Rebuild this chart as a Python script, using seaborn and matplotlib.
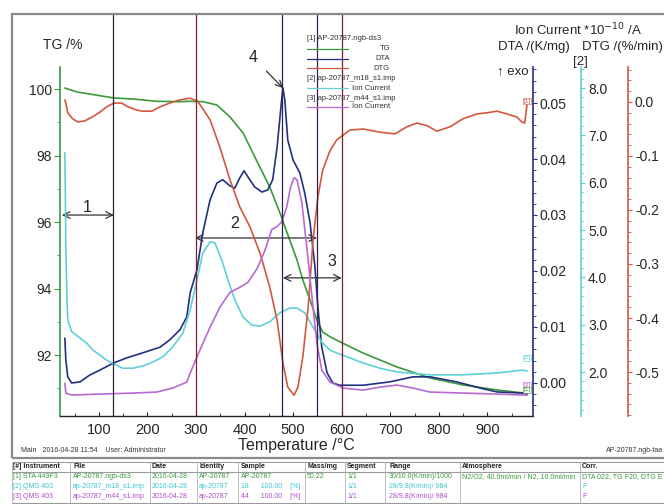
import matplotlib
matplotlib.use("Agg")
import matplotlib.pyplot as plt
from matplotlib.lines import Line2D
from matplotlib.patches import Rectangle
from matplotlib.ticker import FixedLocator, FormatStrFormatter
import numpy as np
import seaborn as sns

# ---------------- data ----------------
# [1] TG  (mass, %)
tg_temp = [30, 55, 81, 131, 170, 219, 267, 288, 314, 343, 370, 397, 421, 452, 473,
           493, 508, 520, 535, 549, 561, 576, 596, 644, 714, 782, 850, 920, 973, 982]
tg_mass = [100.03, 99.91, 99.85, 99.73, 99.70, 99.63, 99.62, 99.63, 99.62, 99.52,
           99.16, 98.68, 97.96, 97.05, 96.27, 95.46, 94.86, 94.26, 93.65, 93.05,
           92.69, 92.55, 92.40, 92.06, 91.64, 91.31, 91.10, 90.95, 90.86, 90.82]

# [1] DTG (%/min)
dtg_temp = [30, 32, 36, 46, 57, 71, 86, 102, 116, 131, 147, 160, 178, 191, 209, 226,
            246, 267, 288, 304, 329, 349, 370, 390, 411, 432, 452, 467, 479, 489,
            502, 510, 520, 531, 541, 551, 561, 576, 590, 617, 644, 679, 710, 734,
            755, 776, 796, 823, 850, 879, 899, 920, 940, 961, 971, 977, 982]
dtg_rate = [0.004, -0.002, -0.020, -0.031, -0.037, -0.035, -0.028, -0.019, -0.009,
            -0.002, -0.002, -0.009, -0.015, -0.017, -0.017, -0.009, -0.002, 0.004,
            0.007, 0.001, -0.033, -0.083, -0.144, -0.194, -0.231, -0.280, -0.343,
            -0.404, -0.483, -0.528, -0.543, -0.528, -0.472, -0.380, -0.256, -0.176,
            -0.126, -0.090, -0.070, -0.052, -0.050, -0.056, -0.059, -0.046, -0.039,
            -0.044, -0.054, -0.046, -0.031, -0.022, -0.020, -0.017, -0.022, -0.028,
            -0.037, -0.039, -0.002]

# [1] DTA (K/mg)
dta_temp = [30, 32, 36, 44, 61, 81, 102, 131, 158, 191, 226, 246, 267, 281, 288, 302,
            314, 329, 343, 355, 370, 380, 390, 399, 407, 421, 436, 448, 458, 467, 475,
            479, 483, 489, 500, 514, 524, 535, 545, 551, 559, 570, 582, 596, 644, 699,
            747, 782, 837, 885, 920, 973, 982]
dta_signal = [0.0080, 0.0041, 0.0011, 0.0000, 0.0002, 0.0014, 0.0023, 0.0036, 0.0045,
              0.0054, 0.0064, 0.0077, 0.0095, 0.0118, 0.0161, 0.0202, 0.0268, 0.0327,
              0.0357, 0.0363, 0.0352, 0.0348, 0.0366, 0.0379, 0.0368, 0.0350, 0.0341,
              0.0345, 0.0363, 0.0421, 0.0493, 0.0527, 0.0505, 0.0434, 0.0398, 0.0375,
              0.0339, 0.0286, 0.0207, 0.0136, 0.0064, 0.0018, 0.0000, -0.0004,
              -0.0004, 0.0002, 0.0011, 0.0011, 0.0002, -0.0009, -0.0016, -0.0018,
              -0.0020]

# [2] ion current m/z 18 (*1e-10 A)
m18_temp = [30, 31, 32, 34, 36, 44, 61, 75, 88, 102, 116, 131, 149, 170, 191, 211,
            232, 252, 273, 288, 302, 314, 329, 339, 353, 366, 380, 397, 415, 432,
            452, 473, 493, 508, 524, 541, 559, 576, 611, 644, 679, 714, 782, 850,
            920, 973, 982]
m18_current = [6.63, 5.78, 4.64, 3.67, 3.10, 2.85, 2.72, 2.61, 2.46, 2.36, 2.25,
               2.17, 2.08, 2.08, 2.13, 2.21, 2.32, 2.53, 2.82, 3.31, 3.94, 4.51,
               4.75, 4.73, 4.37, 3.94, 3.52, 3.16, 2.99, 2.97, 3.06, 3.25, 3.35,
               3.35, 3.25, 2.95, 2.63, 2.46, 2.32, 2.19, 2.08, 2.00, 1.94, 1.94,
               1.98, 2.04, 2.02]

# [3] ion current m/z 44 (*1e-10 A)
m44_temp = [30, 32, 44, 102, 170, 219, 252, 281, 288, 308, 329, 349, 370, 390, 407,
            426, 442, 456, 467, 477, 487, 495, 502, 508, 518, 528, 539, 549, 559,
            576, 603, 644, 679, 714, 747, 782, 850, 920, 973, 982]
m44_current = [0.33, 0.23, 0.21, 0.22, 0.23, 0.24, 0.28, 0.34, 0.43, 0.66, 0.89,
               1.09, 1.24, 1.29, 1.34, 1.48, 1.66, 1.87, 1.90, 1.95, 2.10, 2.30,
               2.39, 2.37, 2.14, 1.70, 1.19, 0.73, 0.46, 0.34, 0.28, 0.26, 0.29,
               0.31, 0.28, 0.24, 0.23, 0.22, 0.21, 0.21]

# evaluation temperatures (vertical markers)
marker_temps = [130, 300, 478, 550, 600]
marker_colors = ["#2e2238", "#7a1f2b", "#2b2050", "#3a1f4a", "#7a1f2b"]

# tick values
tg_ticks = [92, 94, 96, 98, 100]
dta_ticks = [0.00, 0.01, 0.02, 0.03, 0.04, 0.05]
m18_ticks = [2.0, 3.0, 4.0, 5.0, 6.0, 7.0, 8.0]
dtg_ticks = [0.0, -0.1, -0.2, -0.3, -0.4, -0.5]
temp_ticks = [100, 200, 300, 400, 500, 600, 700, 800, 900]

# table rows
table_header = ["[#] Instrument", "File", "Date", "Identity", "Sample", "Mass/mg",
                "Segment", "Range", "Atmosphere", "Corr."]
table_rows = [
    ["[1] STA 449F3", "AP-20787.ngb-ds3", "2016-04-28", "AP-20787", "AP-20787",
     "50.22", "1/1", "30/10.0(K/min)/1000", "N2/O2, 40.0ml/min / N2, 10.0ml/min",
     "DTA 022, TG F20, DTG E"],
    ["[2] QMS 403", "ap-20787_m18_s1.imp", "2016-04-28", "ap-20787",
     "18      100.00    [%]", "", "1/1", "28/9.8(K/min)/ 984", "", "F"],
    ["[3] QMS 403", "ap-20787_m44_s1.imp", "2016-04-28", "ap-20787",
     "44      100.00    [%]", "", "1/1", "28/9.8(K/min)/ 984", "", "F"],
]

# ---------------- style ----------------
sns.set_theme(style="white")
plt.rcParams["font.family"] = ["Liberation Sans", "DejaVu Sans"]

C_TG = "#3a9a3c"
C_DTA = "#22307e"
C_DTG = "#d2573f"
C_M18 = "#5fd0d8"
C_M44 = "#b86ad2"

W, H = 664, 504
fig = plt.figure(figsize=(W / 100, H / 100), dpi=100)


def fx(x):
    return x / W


def fy(y):
    return 1 - y / H


# outer frame
fig.add_artist(Rectangle((fx(12), fy(458)), fx(700) - fx(12), fy(14) - fy(458),
                         transform=fig.transFigure, fill=False, ec="#8a8a8a", lw=1.6))

ax = fig.add_axes([fx(60), fy(416), fx(533) - fx(60), fy(14) - fy(416)])
ax.set_facecolor("none")
ax2 = ax.twinx()   # DTA
ax3 = ax.twinx()   # ion current [2]
ax4 = ax.twinx()   # DTG
ax5 = ax.twinx()   # ion current [3]
for a in (ax2, ax3, ax4, ax5):
    a.set_facecolor("none")

ax.set_xlim(20, 994)
ax.set_ylim(90.166, 102.256)
ax2.set_ylim(-0.005893, 0.065893)
ax3.set_ylim(1.0704, 9.5638)
ax4.set_ylim(-0.58148, 0.16296)
ax5.set_ylim(0.0, 4.032)

lw = 1.2
sns.lineplot(x=m44_temp, y=m44_current, ax=ax5, color=C_M44, lw=lw, estimator=None, sort=False)
sns.lineplot(x=m18_temp, y=m18_current, ax=ax3, color=C_M18, lw=lw, estimator=None, sort=False)
sns.lineplot(x=dtg_temp, y=dtg_rate, ax=ax4, color=C_DTG, lw=lw, estimator=None, sort=False)
sns.lineplot(x=tg_temp, y=tg_mass, ax=ax, color=C_TG, lw=lw, estimator=None, sort=False)
sns.lineplot(x=dta_temp, y=dta_signal, ax=ax2, color=C_DTA, lw=lw, estimator=None, sort=False)

for t, c in zip(marker_temps, marker_colors):
    ax5.axvline(t, color=c, lw=0.9)

# spines
for a in (ax, ax2, ax3, ax4, ax5):
    for s in a.spines.values():
        s.set_visible(False)
ax.spines["bottom"].set_visible(True)
ax.spines["bottom"].set_color("#222222")
ax.spines["bottom"].set_linewidth(1.0)
ax.spines["left"].set_visible(True)
ax.spines["left"].set_color(C_TG)
ax.spines["left"].set_linewidth(1.2)
ax.spines["left"].set_bounds(90.166, 100.66)

ax2.spines["right"].set_visible(True)
ax2.spines["right"].set_color(C_DTA)
ax2.spines["right"].set_linewidth(1.2)
ax2.spines["right"].set_bounds(-0.005893, 0.0564)

ax3.spines["right"].set_visible(True)
ax3.spines["right"].set_position(("axes", (581 - 60) / 473))
ax3.spines["right"].set_color(C_M18)
ax3.spines["right"].set_linewidth(1.2)
ax3.spines["right"].set_bounds(1.0704, 8.44)

ax4.spines["right"].set_visible(True)
ax4.spines["right"].set_position(("axes", (628 - 60) / 473))
ax4.spines["right"].set_color(C_DTG)
ax4.spines["right"].set_linewidth(1.2)
ax4.spines["right"].set_bounds(-0.58148, 0.0648)

ax5.set_yticks([])
ax5.set_ylabel("")

# ticks
ax.xaxis.set_major_locator(FixedLocator(temp_ticks))
ax.xaxis.set_minor_locator(FixedLocator(list(np.arange(50, 1000, 50))))
ax.tick_params(axis="x", which="major", direction="in", length=3, width=0.8,
               labelsize=10.5, pad=5, bottom=True, color="#222222")
ax.tick_params(axis="x", which="minor", direction="in", length=2, width=0.6,
               bottom=True, color="#222222")
ax.set_xlabel("Temperature /°C", fontsize=11.5, labelpad=1)

ax.yaxis.set_major_locator(FixedLocator(tg_ticks))
ax.yaxis.set_minor_locator(FixedLocator([91, 93, 95, 97, 99]))
ax.yaxis.set_major_formatter(FormatStrFormatter("%d"))
ax.tick_params(axis="y", which="major", direction="out", length=4, width=0.8,
               color=C_TG, labelsize=10, pad=2, left=True)
ax.tick_params(axis="y", which="minor", direction="out", length=2.5, width=0.6,
               color=C_TG, left=True)
ax.set_ylabel("")

right_axes = [
    (ax2, dta_ticks, np.arange(-0.004, 0.0561, 0.002), "%.2f", C_DTA),
    (ax3, m18_ticks, np.arange(1.2, 8.41, 0.2), "%.1f", C_M18),
    (ax4, dtg_ticks, np.arange(-0.58, 0.061, 0.02), "%.1f", C_DTG),
]
for a, majors, minors, fmt, col in right_axes:
    a.yaxis.set_major_locator(FixedLocator(majors))
    a.yaxis.set_minor_locator(FixedLocator(list(np.round(minors, 4))))
    a.yaxis.set_major_formatter(FormatStrFormatter(fmt))
    a.tick_params(axis="y", which="major", direction="out", length=3, width=0.8,
                  color=col, labelsize=10, pad=2, right=True)
    a.tick_params(axis="y", which="minor", direction="out", length=2, width=0.6,
                  color=col, right=True)
    a.set_ylabel("")

# axis titles
fig.text(fx(43), fy(45), "TG /%", fontsize=10, va="center", ha="left")
fig.text(fx(578), fy(30), "Ion Current *10$^{-10}$ /A", fontsize=9.5, va="center", ha="center")
fig.text(fx(534), fy(47), "DTA /(K/mg)", fontsize=9.5, va="center", ha="center")
fig.text(fx(663), fy(47), "DTG /(%/min)", fontsize=9.5, va="center", ha="right")
fig.text(fx(580), fy(62), "[2]", fontsize=9.5, va="center", ha="center")
fig.text(fx(497), fy(71), "\u2191 exo", fontsize=9.5, va="center", ha="left")

# curve end tags
for txt, col, ypx in [("[1]", C_DTG, 101), ("[2]", C_M18, 358), ("[3]", C_M44, 385), ("[1]", C_TG, 390)]:
    fig.text(fx(527), fy(ypx), txt, fontsize=4.5, color=col, ha="center", va="center",
             bbox=dict(boxstyle="square,pad=0.1", fc="white", ec=col, lw=0.4))

# legend block
leg_items = [
    ("[1] AP-20787.ngb-ds3", None, 39),
    ("TG", C_TG, 49),
    ("DTA", C_DTA, 59),
    ("DTG", C_DTG, 68),
    ("[2] ap-20787_m18_s1.imp", None, 78),
    ("Ion Current", C_M18, 88),
    ("[3] ap-20787_m44_s1.imp", None, 98),
    ("Ion Current", C_M44, 107),
]
for label, col, ypx in leg_items:
    if col is None:
        fig.text(fx(307), fy(ypx), label, fontsize=5.5, color="#333333", ha="left", va="center")
    else:
        fig.add_artist(Line2D([fx(307), fx(348)], [fy(ypx), fy(ypx)], color=col, lw=0.9,
                              transform=fig.transFigure))
        fig.text(fx(390), fy(ypx), label, fontsize=5.5, color="#333333", ha="right", va="center")

# step annotations
arrow_kw = dict(arrowstyle="<->", color="#333333", lw=0.9, shrinkA=0, shrinkB=0)
ax.annotate("", xy=(24, 96.21), xytext=(131, 96.21), arrowprops=arrow_kw)
ax.annotate("", xy=(298, 95.52), xytext=(549, 95.52), arrowprops=arrow_kw)
ax.annotate("", xy=(479, 94.32), xytext=(600, 94.32), arrowprops=arrow_kw)
ax.text(77, 96.45, "1", fontsize=11.5, ha="center", va="center")
ax.text(380, 95.97, "2", fontsize=11.5, ha="center", va="center")
ax.text(580, 94.80, "3", fontsize=11.5, ha="center", va="center")
ax.annotate("4", xy=(479, 100.03), xytext=(417, 100.96), fontsize=11.5, ha="center", va="center",
            arrowprops=dict(arrowstyle="->", color="#333333", lw=0.9, shrinkA=6, shrinkB=0))

# footer
fig.text(fx(21), fy(451), "Main   2016-04-28 11:54    User: Administrator", fontsize=5,
         color="#333333", ha="left", va="center")
fig.text(fx(663), fy(451), "AP-20787.ngb-taa", fontsize=5, color="#333333", ha="right", va="center")

# data table
t_top, t_head, t_bot = 462, 472, 503
col_lines = [12, 70, 150, 197, 238, 305, 345, 385, 460, 580, 700]
text_x = [13, 73, 152, 199, 241, 307, 347, 389, 462, 582]
row_y = [477, 487, 497]
row_colors = [C_TG, "#3cc4d0", "#b04cc8"]
for ypx in (t_top, t_head, t_bot):
    fig.add_artist(Line2D([fx(12), fx(700)], [fy(ypx), fy(ypx)], color="#9a9a9a", lw=0.8,
                          transform=fig.transFigure))
for xpx in col_lines:
    fig.add_artist(Line2D([fx(xpx), fx(xpx)], [fy(t_top), fy(t_bot)], color="#b0b0b0", lw=0.6,
                          transform=fig.transFigure))
for txt, xpx in zip(table_header, text_x):
    fig.text(fx(xpx), fy(467), txt, fontsize=5, weight="bold", color="#222222", ha="left", va="center")
for row, ypx, col in zip(table_rows, row_y, row_colors):
    for txt, xpx in zip(row, text_x):
        fig.text(fx(xpx), fy(ypx), txt, fontsize=5, color=col, ha="left", va="center")

fig.savefig("out.png", dpi=100)
